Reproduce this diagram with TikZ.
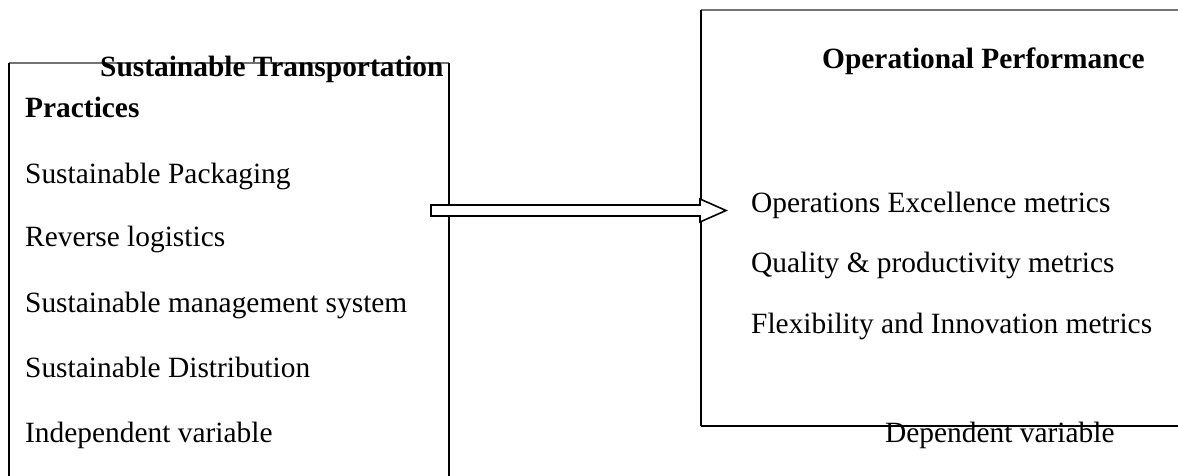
\documentclass[tikz,border=0pt]{standalone}
\usepackage{fontspec}
\setmainfont{Liberation Serif}
\begin{document}
\begin{tikzpicture}[x=1pt,y=-1pt,
  lbl/.style={anchor=base west,inner sep=0pt,font=\fontsize{29.4}{35}\selectfont},
  hdr/.style={lbl,font=\fontsize{29.4}{35}\selectfont\bfseries},
  boxline/.style={draw=black,line width=1.1pt},
  topline/.style={draw=black!55,line width=1.3pt},
  fatarrow/.style={draw=black,line width=1.6pt,fill=white,line join=miter}]
\useasboundingbox (0,0) rectangle (1178,475);
% left box (independent variable)
\coordinate (LTL) at (9,63);
\coordinate (LTR) at (449,63);
\draw[topline] (LTL) -- (LTR);
\draw[boxline] (LTL) -- (9,476);
\draw[boxline] (LTR) -- (449,476);
% right box (dependent variable)
\coordinate (RTL) at (701,10);
\coordinate (RBL) at (701,426);
\draw[topline] (RTL) -- (1179,10);
\draw[boxline] (RTL) -- (RBL);
\draw[boxline] (RBL) -- (1179,426);
% texts left
\node[hdr] (t1) at (100,76) {Sustainable Transportation};
\node[hdr] (t2) at (25,117) {Practices};
\node[lbl] (a1) at (25,183) {Sustainable Packaging};
\node[lbl] (a2) at (25,246) {Reverse logistics};
\node[lbl] (a3) at (25,312) {Sustainable management system};
\node[lbl] (a4) at (25,377) {Sustainable Distribution};
\node[lbl] (a5) at (25,442) {Independent variable};
% texts right
\node[hdr] (h1) at (822,68) {Operational Performance};
\node[lbl] (b1) at (751,212) {Operations Excellence metrics};
\node[lbl] (b2) at (751,272) {Quality \& productivity metrics};
\node[lbl] (b3) at (751,333) {Flexibility and Innovation metrics};
\node[lbl] (b4) at (885,442) {Dependent variable};
% block arrow from left box to right box
\coordinate (AS) at (431,210.5);
\coordinate (AT) at (726,210.5);
\draw[fatarrow] (AS) ++(0,-5.5) -- (700,205) -- (700,199) -- (AT) -- (700,222) -- (700,216) -- (431,216) -- cycle;
\end{tikzpicture}
\end{document}
